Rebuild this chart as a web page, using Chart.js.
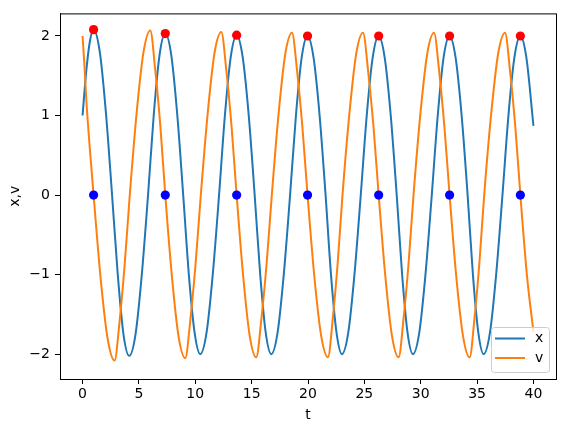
<!DOCTYPE html>
<html>
<head>
<meta charset="utf-8">
<script src="https://cdn.jsdelivr.net/npm/chart.js@4.4.1/dist/chart.umd.min.js"></script>
<style>
  html, body { margin: 0; padding: 0; background: #fff; }
</style>
</head>
<body>
<canvas id="oscChart" width="565" height="432"></canvas>
<script>
// x(t), blue curve
var tX = [0, 0.33, 0.66, 0.98, 1.53, 2.07, 2.62, 3.13, 3.63, 4.14, 4.70, 5.25, 5.81, 6.32, 6.83,
  7.34, 7.87, 8.40, 8.93, 9.43, 9.94, 10.44, 11.00, 11.55, 12.11, 12.63, 13.15,
  13.67, 14.20, 14.74, 15.27, 15.76, 16.25, 16.74, 17.30, 17.85, 18.41, 18.93, 19.44,
  19.96, 20.49, 21.03, 21.56, 22.04, 22.53, 23.01, 23.57, 24.12, 24.68, 25.21, 25.74,
  26.27, 26.80, 27.34, 27.87, 28.35, 28.83, 29.31, 29.87, 30.42, 30.98, 31.51, 32.03,
  32.56, 33.09, 33.63, 34.16, 34.63, 35.11, 35.58, 36.14, 36.69, 37.25, 37.78, 38.31,
  38.84, 39.37, 40.00];
var xVals = [1.00, 1.56, 1.94, 2.08, 1.80, 1.04, 0, -1.01, -1.75, -2.02, -1.75, -1.01, 0, 1.015, 1.76,
  2.03, 1.76, 1.015, 0, -1.00, -1.73, -2.00, -1.73, -1.00, 0, 1.005, 1.74,
  2.01, 1.74, 1.005, 0, -1.00, -1.73, -2.00, -1.73, -1.00, 0, 1.00, 1.73,
  2.00, 1.73, 1.00, 0, -1.00, -1.73, -2.00, -1.73, -1.00, 0, 1.00, 1.73,
  2.00, 1.73, 1.00, 0, -1.00, -1.73, -2.00, -1.73, -1.00, 0, 1.00, 1.73,
  2.00, 1.73, 1.00, 0, -1.00, -1.73, -2.00, -1.73, -1.00, 0, 1.00, 1.73,
  2.00, 1.73, 0.87];

// v(t), orange curve
var tV = [0, 0.18, 0.35, 0.66, 0.98, 1.60, 2.22, 2.84, 3.29, 3.74, 4.19, 4.80, 5.40, 6.01, 6.45, 6.90,
  7.34, 7.93, 8.52, 9.11, 9.57, 10.03, 10.49, 11.10, 11.70, 12.31, 12.76, 13.22,
  13.67, 14.25, 14.83, 15.41, 15.87, 16.33, 16.79, 17.39, 17.98, 18.58, 19.04, 19.50,
  19.96, 20.56, 21.17, 21.77, 22.20, 22.63, 23.06, 23.67, 24.27, 24.88, 25.34, 25.81,
  26.27, 26.86, 27.45, 28.04, 28.48, 28.92, 29.36, 29.97, 30.57, 31.18, 31.64, 32.10,
  32.56, 33.15, 33.75, 34.34, 34.77, 35.20, 35.63, 36.25, 36.86, 37.48, 37.93, 38.39,
  38.84, 39.43, 40.00];
var vVals = [2.00, 1.60, 1.16, 0.56, 0, -1.04, -1.80, -2.08, -1.58, -0.87, 0, 1.035, 1.79, 2.07, 1.57, 0.87,
  0, -1.025, -1.78, -2.05, -1.56, -0.86, 0, 1.025, 1.78, 2.05, 1.56, 0.86,
  0, -1.02, -1.77, -2.04, -1.55, -0.86, 0, 1.02, 1.77, 2.04, 1.55, 0.86,
  0, -1.02, -1.77, -2.04, -1.55, -0.86, 0, 1.02, 1.77, 2.04, 1.55, 0.86,
  0, -1.02, -1.77, -2.04, -1.55, -0.86, 0, 1.02, 1.77, 2.04, 1.55, 0.86,
  0, -1.02, -1.77, -2.04, -1.55, -0.86, 0, 1.02, 1.77, 2.04, 1.55, 0.86,
  0, -1.02, -1.72];

// event times (v = 0, x at its maxima)
var tEv = [0.98, 7.34, 13.67, 19.96, 26.27, 32.56, 38.84];
var xEv = [2.08, 2.03, 2.01, 2.00, 2.00, 2.00, 2.00];
var vEv = [0, 0, 0, 0, 0, 0, 0];

var xTicks = [0, 5, 10, 15, 20, 25, 30, 35, 40];
var yTicks = [-2, -1, 0, 1, 2];

function pts(ts, vs) {
  return ts.map(function (t, i) { return { x: t, y: vs[i] }; });
}
function fmt(v) {
  return v < 0 ? '\u2212' + Math.abs(v) : String(v);
}

Chart.defaults.font.family = 'DejaVu Sans';
Chart.defaults.font.size = 14;
Chart.defaults.color = '#000';

// top and right spines
var frame = {
  id: 'frame',
  afterDatasetsDraw: function (chart) {
    var ca = chart.chartArea, ctx = chart.ctx;
    ctx.save();
    ctx.strokeStyle = '#000';
    ctx.lineWidth = 1;
    ctx.strokeRect(ca.left + 0.5, ca.top + 0.5, ca.right - ca.left, ca.bottom - ca.top);
    ctx.restore();
  }
};

// matplotlib style legend, lower right inside the axes
var boxLegend = {
  id: 'boxLegend',
  afterDraw: function (chart) {
    var ca = chart.chartArea, ctx = chart.ctx;
    var items = chart.data.datasets.filter(function (d) { return d.label; });
    var w = 58, h = 45;
    var bx = ca.right - 7 - w, by = ca.bottom - 7 - h;
    ctx.save();
    ctx.beginPath();
    ctx.roundRect(bx + 0.5, by + 0.5, w, h, 3);
    ctx.fillStyle = 'rgba(255,255,255,0.8)';
    ctx.fill();
    ctx.strokeStyle = '#cccccc';
    ctx.lineWidth = 1;
    ctx.stroke();
    ctx.font = '14px "DejaVu Sans"';
    ctx.textBaseline = 'middle';
    ctx.textAlign = 'left';
    items.forEach(function (d, i) {
      var y = by + 11.5 + i * 19.5;
      ctx.beginPath();
      ctx.moveTo(bx + 4, y);
      ctx.lineTo(bx + 34, y);
      ctx.strokeStyle = d.borderColor;
      ctx.lineWidth = 2;
      ctx.stroke();
      ctx.fillStyle = '#000';
      ctx.fillText(d.label, bx + 44, y);
    });
    ctx.restore();
  }
};

new Chart(document.getElementById('oscChart'), {
  type: 'line',
  data: {
    datasets: [
      {
        label: 'x',
        data: pts(tX, xVals),
        borderColor: '#1f77b4',
        borderWidth: 2,
        pointRadius: 0,
        cubicInterpolationMode: 'monotone',
        fill: false,
        order: 4
      },
      {
        label: 'v',
        data: pts(tV, vVals),
        borderColor: '#ff7f0e',
        borderWidth: 2,
        pointRadius: 0,
        cubicInterpolationMode: 'monotone',
        fill: false,
        order: 3
      },
      {
        data: pts(tEv, xEv),
        showLine: false,
        pointRadius: 4.6,
        pointBackgroundColor: '#ff0000',
        pointBorderColor: '#ff0000',
        pointBorderWidth: 0,
        order: 2
      },
      {
        data: pts(tEv, vEv),
        showLine: false,
        pointRadius: 4.6,
        pointBackgroundColor: '#0000ff',
        pointBorderColor: '#0000ff',
        pointBorderWidth: 0,
        order: 1
      }
    ]
  },
  options: {
    responsive: false,
    animation: false,
    devicePixelRatio: 1,
    layout: { padding: { top: 9, right: 9, left: 0, bottom: 0 } },
    plugins: {
      legend: { display: false },
      tooltip: { enabled: false }
    },
    scales: {
      x: {
        type: 'linear',
        min: -2,
        max: 42,
        afterFit: function (s) { s.height = 53; },
        afterBuildTicks: function (s) { s.ticks = xTicks.map(function (v) { return { value: v }; }); },
        grid: { drawOnChartArea: false, tickLength: 5, tickColor: '#000', tickWidth: 1 },
        border: { color: '#000', width: 1 },
        ticks: { padding: 2, maxRotation: 0, autoSkip: false, callback: fmt },
        title: { display: true, text: 't', padding: { top: 0, bottom: 8.5 } }
      },
      y: {
        type: 'linear',
        min: -2.312,
        max: 2.284,
        afterFit: function (s) { s.width = 60; },
        afterBuildTicks: function (s) { s.ticks = yTicks.map(function (v) { return { value: v }; }); },
        grid: { drawOnChartArea: false, tickLength: 5, tickColor: '#000', tickWidth: 1 },
        border: { color: '#000', width: 1 },
        ticks: { padding: 5, callback: fmt },
        title: { display: true, text: 'x,v', padding: { top: 6.7, bottom: 0 } }
      }
    }
  },
  plugins: [frame, boxLegend]
});
</script>
</body>
</html>
